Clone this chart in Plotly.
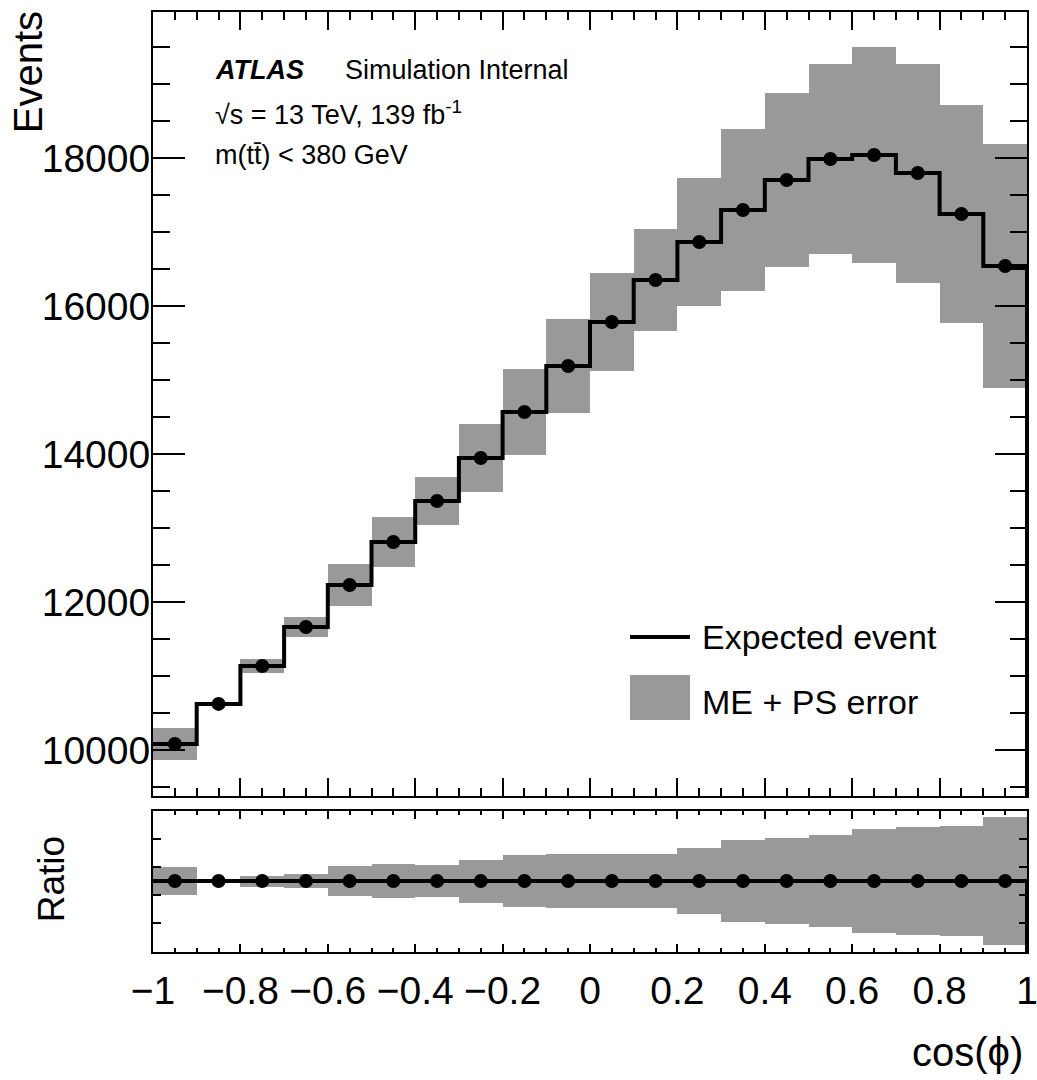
import plotly.graph_objects as go

# cos(phi) binning: 20 bins of width 0.1 between -1 and 1
bin_edges = [-1.0, -0.9, -0.8, -0.7, -0.6, -0.5, -0.4, -0.3, -0.2, -0.1, 0.0,
             0.1, 0.2, 0.3, 0.4, 0.5, 0.6, 0.7, 0.8, 0.9, 1.0]

# Expected number of events per bin
events = [10081, 10622, 11135, 11662, 12230, 12811, 13365, 13946, 14568, 15189,
          15784, 16351, 16865, 17297, 17703, 17986, 18041, 17797, 17243, 16541]

# ME + PS systematic uncertainty (symmetric, in events)
me_ps_err = [216, 20, 95, 135, 285, 335, 330, 465, 585, 640,
             660, 690, 865, 1090, 1170, 1290, 1460, 1480, 1470, 1645]

x_tick_vals = [-1, -0.8, -0.6, -0.4, -0.2, 0, 0.2, 0.4, 0.6, 0.8, 1]
x_tick_text = ["\u22121", "\u22120.8", "\u22120.6", "\u22120.4", "\u22120.2", "0",
               "0.2", "0.4", "0.6", "0.8", "1"]
y_tick_vals = [10000, 12000, 14000, 16000, 18000]

main_range = [9378, 19973]
ratio_range = [0.890, 1.1085]
ratio_tick_vals = [0.935, 0.978, 1.022, 1.065]

centers = [(a + b) / 2 for a, b in zip(bin_edges[:-1], bin_edges[1:])]
widths = [b - a for a, b in zip(bin_edges[:-1], bin_edges[1:])]
band_lo = [v - e for v, e in zip(events, me_ps_err)]
rel_err = [e / v for v, e in zip(events, me_ps_err)]

GREY = "#999999"
FONT = "Liberation Sans, Arial, Helvetica, sans-serif"

fig = go.Figure()

# --- main panel ---
fig.add_trace(go.Bar(
    x=centers, y=[2 * e for e in me_ps_err], base=band_lo, width=widths,
    marker=dict(color=GREY, line=dict(width=0)), showlegend=False,
    xaxis="x", yaxis="y", hoverinfo="skip"))

step_x = bin_edges + [bin_edges[-1]]
step_y = events + [events[-1], main_range[0]]
fig.add_trace(go.Scatter(
    x=step_x, y=step_y, mode="lines", line=dict(color="black", width=4, shape="hv"),
    showlegend=False, xaxis="x", yaxis="y"))
fig.add_trace(go.Scatter(
    x=centers, y=events, mode="markers", marker=dict(color="black", size=14),
    showlegend=False, xaxis="x", yaxis="y"))

# --- ratio panel ---
fig.add_trace(go.Bar(
    x=centers, y=[2 * r for r in rel_err], base=[1 - r for r in rel_err], width=widths,
    marker=dict(color=GREY, line=dict(width=0)), showlegend=False,
    xaxis="x2", yaxis="y2", hoverinfo="skip"))
ratio_vals = [1.0] * len(events)
fig.add_trace(go.Scatter(
    x=step_x, y=ratio_vals + [1.0, ratio_range[0]], mode="lines",
    line=dict(color="black", width=4, shape="hv"),
    showlegend=False, xaxis="x2", yaxis="y2"))
fig.add_trace(go.Scatter(
    x=centers, y=ratio_vals, mode="markers", marker=dict(color="black", size=14),
    showlegend=False, xaxis="x2", yaxis="y2"))

axis_common = dict(showline=True, linecolor="black", linewidth=2, mirror="allticks",
                   ticks="inside", tickcolor="black", tickwidth=1.5,
                   showgrid=False, zeroline=False, automargin=False)

fig.update_layout(
    width=1037, height=1080,
    margin=dict(l=153, r=10, t=12, b=128),
    paper_bgcolor="white", plot_bgcolor="white",
    barmode="overlay", bargap=0,
    font=dict(family=FONT, color="black"),
    xaxis=dict(domain=[0, 1], anchor="y", range=[-1, 1], tickvals=x_tick_vals,
               showticklabels=False, ticklen=18,
               minor=dict(dtick=0.05, ticklen=8, ticks="inside", tickcolor="black", tickwidth=1.5),
               **axis_common),
    yaxis=dict(domain=[0.166, 1], anchor="x", range=main_range, tickvals=y_tick_vals,
               tickformat="d", ticklen=32, tickfont=dict(size=39, family=FONT),
               ticklabelstandoff=-7,
               minor=dict(dtick=500, ticklen=17, ticks="inside", tickcolor="black", tickwidth=1.5),
               **axis_common),
    xaxis2=dict(domain=[0, 1], anchor="y2", range=[-1, 1], tickvals=x_tick_vals,
                ticktext=x_tick_text, ticklen=8, tickfont=dict(size=39, family=FONT),
                ticklabelstandoff=3, ticklabeloverflow="allow",
                minor=dict(dtick=0.05, ticklen=4, ticks="inside", tickcolor="black", tickwidth=1.5),
                **axis_common),
    yaxis2=dict(domain=[0, 0.15], anchor="x2", range=ratio_range, tickvals=ratio_tick_vals,
                showticklabels=False, ticklen=8, **axis_common),
)

# axis titles and labels
fig.add_annotation(text="Events", xref="paper", yref="paper", x=-0.143, y=1.003,
                   xanchor="center", yanchor="top", textangle=-90, showarrow=False,
                   font=dict(size=40, family=FONT))
fig.add_annotation(text="Ratio", xref="paper", yref="paper", x=-0.116, y=0.077,
                   xanchor="center", yanchor="middle", textangle=-90, showarrow=False,
                   font=dict(size=37, family=FONT))
fig.add_annotation(text="cos(\u03d5)", xref="paper", yref="paper", x=0.998, y=-0.106,
                   xanchor="right", yanchor="middle", showarrow=False,
                   font=dict(size=40, family=FONT))

# ATLAS label block
fig.add_annotation(text="<b><i>ATLAS</i></b>", xref="paper", yref="paper", x=0.0686, y=0.938,
                   xanchor="left", yanchor="middle", showarrow=False, font=dict(size=27, family=FONT))
fig.add_annotation(text="Simulation Internal", xref="paper", yref="paper", x=0.2174, y=0.938,
                   xanchor="left", yanchor="middle", showarrow=False, font=dict(size=27, family=FONT))
fig.add_annotation(text="\u221as = 13 TeV, 139 fb<sup>-1</sup>",
                   xref="paper", yref="paper", x=0.0686, y=0.8926,
                   xanchor="left", yanchor="middle", showarrow=False, font=dict(size=27, family=FONT))
fig.add_annotation(text="m(tt\u0304) < 380 GeV", xref="paper", yref="paper", x=0.0686, y=0.8479,
                   xanchor="left", yanchor="middle", showarrow=False, font=dict(size=27, family=FONT))

# legend
fig.add_shape(type="line", xref="paper", yref="paper", x0=0.5458, x1=0.6144, y0=0.3351, y1=0.3351,
              line=dict(color="black", width=4))
fig.add_shape(type="rect", xref="paper", yref="paper", x0=0.5458, x1=0.6144, y0=0.2468, y1=0.2947,
              fillcolor=GREY, line=dict(width=0))
fig.add_annotation(text="Expected event", xref="paper", yref="paper", x=0.6259, y=0.3351,
                   xanchor="left", yanchor="middle", showarrow=False, font=dict(size=34, family=FONT))
fig.add_annotation(text="ME + PS error", xref="paper", yref="paper", x=0.6259, y=0.2660,
                   xanchor="left", yanchor="middle", showarrow=False, font=dict(size=34, family=FONT))

fig.write_html("out.html")
